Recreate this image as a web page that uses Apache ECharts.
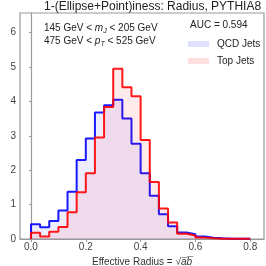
<!DOCTYPE html>
<html><head><meta charset="utf-8">
<script src="https://cdn.jsdelivr.net/npm/echarts@6/dist/echarts.min.js"></script>
<style>html,body{margin:0;padding:0;background:#fff}#c{width:266px;height:266px}</style>
</head><body><div id="c"></div>
<script>
// histogram bin edges (left edges), bin width 1/30, range 0 .. 0.8
const binLeftEdges = [0,1,2,3,4,5,6,7,8,9,10,11,12,13,14,15,16,17,18,19,20,21,22,23].map(i => i / 30);
const binEnd = 0.8;
const qcdDensity = [0.43,0.34,0.52,0.83,1.37,2.30,2.92,3.68,3.89,4.05,3.50,2.77,1.91,1.26,0.72,0.37,0.19,0.14,0.07,0.04,0.02,0.01,0.01,0.01];
const topDensity = [0.18,0.07,0.21,0.35,0.78,1.36,1.91,2.95,3.84,4.95,4.41,4.15,2.88,1.66,0.89,0.48,0.15,0.10,0.04,0.02,0.01,0.01,0.01,0.01];
const xTicks = [0.0,0.2,0.4,0.6,0.8];
const yTicks = [0,1,2,3,4,5,6];
const titleText = '1-(Ellipse+Point)iness: Radius, PYTHIA8';
const aucText = 'AUC = 0.594';

function stepData(vals){
  const d = [[binLeftEdges[0], 0]];
  vals.forEach((v,i)=>d.push([binLeftEdges[i], v]));
  d.push([binEnd, vals[vals.length-1]]);
  d.push([binEnd, 0]);
  return d;
}
const ff = '"Liberation Sans", Arial, sans-serif';
const chart = echarts.init(document.getElementById('c'), null, {renderer:'canvas'});
chart.setOption({
  animation:false,
  textStyle:{fontFamily:ff},
  grid:{left:20,right:2,top:13,bottom:27,show:true,borderColor:'#999',borderWidth:1.2,backgroundColor:'transparent',
        containLabel:false,outerBoundsMode:'none'},
  xAxis:{type:'value',min:-0.04,max:0.85,
    axisLine:{show:true,onZero:false,lineStyle:{color:'#999',width:1.2}},
    axisTick:{show:true,customValues:xTicks,length:3,lineStyle:{color:'#999'}},
    axisLabel:{customValues:xTicks,formatter:v=>v.toFixed(1),color:'#444',fontSize:10,margin:3,fontFamily:ff},
    splitLine:{show:false},
    name:'Effective Radius = √{it|a̅b̅}',nameLocation:'middle',nameGap:17,
    nameTextStyle:{color:'#333',fontSize:10,fontFamily:ff,rich:{it:{fontStyle:'italic',fontSize:10,color:'#333',fontFamily:ff}}}
  },
  yAxis:{type:'value',min:0,max:6.57,
    axisLine:{show:true,lineStyle:{color:'#999',width:1.2}},
    axisTick:{show:true,customValues:yTicks,length:2,lineStyle:{color:'#999'}},
    axisLabel:{customValues:yTicks,color:'#444',fontSize:10,margin:4,fontFamily:ff},
    splitLine:{show:false},
    name:'Density',nameLocation:'middle',nameGap:13,
    nameTextStyle:{color:'#333',fontSize:10,fontFamily:ff}
  },
  legend:{orient:'vertical',left:183,top:34,itemWidth:21,itemHeight:6,itemGap:7,
    textStyle:{color:'#222',fontSize:10,fontFamily:ff,padding:[0,0,0,3]},
    data:[{name:'QCD Jets',icon:'rect',itemStyle:{color:'rgba(0,0,255,0.12)',borderWidth:0}},
          {name:'Top Jets',icon:'rect',itemStyle:{color:'rgba(255,0,0,0.13)',borderWidth:0}}]
  },
  graphic:[
    {type:'text',left:44,top:1,style:{text:titleText,fontSize:12,fill:'#222',fontFamily:ff}},
    {type:'text',left:44,top:22,style:{
      text:'145 GeV < {it|m}{sub|J} < 205 GeV\n475 GeV < {it|p}{sub|T} < 525 GeV',
      fontSize:10,fill:'#222',fontFamily:ff,lineHeight:13,
      rich:{it:{fontStyle:'italic',fontSize:10,fill:'#222',fontFamily:ff},
            sub:{fontStyle:'italic',fontSize:7,fill:'#222',fontFamily:ff,verticalAlign:'bottom',padding:[4,0,0,0]}}}},
    {type:'text',left:190,top:20,style:{text:aucText,fontSize:10,fill:'#222',fontFamily:ff}}
  ],
  series:[
    {name:'QCD Jets',type:'line',step:'end',symbol:'none',data:stepData(qcdDensity),
      lineStyle:{color:'rgba(0,0,255,0.9)',width:2},itemStyle:{color:'rgba(0,0,255,0.12)'},
      areaStyle:{color:'rgba(0,0,255,0.1)',origin:0},z:2},
    {name:'Top Jets',type:'line',step:'end',symbol:'none',data:stepData(topDensity),
      lineStyle:{color:'rgba(255,0,0,0.9)',width:2},itemStyle:{color:'rgba(255,0,0,0.13)'},
      areaStyle:{color:'rgba(255,0,0,0.11)',origin:0},z:3}
  ]
});
</script></body></html>
